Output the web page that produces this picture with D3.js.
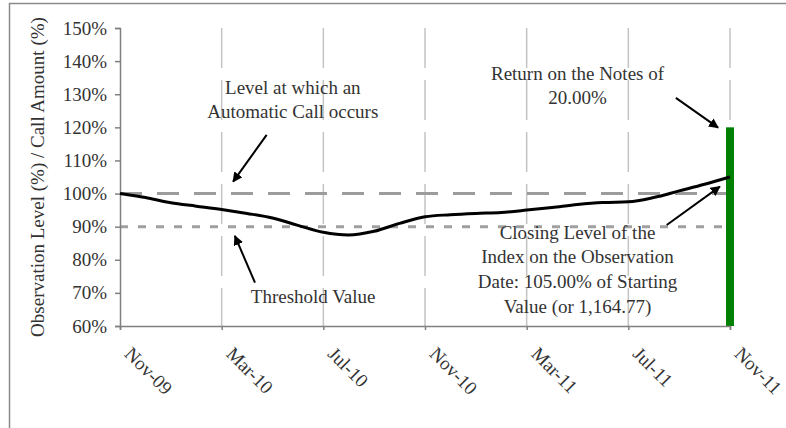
<!DOCTYPE html>
<html>
<head>
<meta charset="utf-8">
<script src="https://cdn.jsdelivr.net/npm/d3@7"></script>
<style>
  body { margin: 0; background: #fff; }
  text { font-family: "Liberation Serif", "Times New Roman", serif; fill: #333; }
</style>
</head>
<body>
<svg id="chart"></svg>
<script>
// Monthly closing level of the index, % of starting value (Nov-09 .. Nov-11)
const levels = [100, 98.8, 97.2, 96.2, 95.2, 94, 92.6, 90.4, 88.3, 87.5, 88.6, 91,
  93, 93.6, 94, 94.3, 95, 95.8, 96.7, 97.3, 97.5, 98.8, 100.8, 102.8, 105];

// x tick positions (month offset from Nov-09) and their labels
const tickMonths = [0, 4, 8, 12, 16, 20, 24];
const tickLabels = ["Nov-09", "Mar-10", "Jul-10", "Nov-10", "Mar-11", "Jul-11", "Nov-11"];
const yTicks = [60, 70, 80, 90, 100, 110, 120, 130, 140, 150];

const callLevel = 100;
const thresholdLevel = 90;
const returnBar = { month: 24, value: 120 };

// annotations: text lines and arrows in data units (month, %)
const notes = [
  { m: 6.8, v: 130.2, lines: ["Level at which an", "Automatic Call occurs"] },
  { m: 18.0, v: 134.4, lines: ["Return on the Notes of", "20.00%"] },
  { m: 7.6, v: 67.0, lines: ["Threshold Value"] },
  { m: 18.0, v: 86.4, lines: ["Closing Level of the", "Index on the Observation",
    "Date: 105.00% of Starting", "Value (or 1,164.77)"] }
];
const arrows = [
  { from: [5.77, 117.7], to: [4.45, 103.6] },
  { from: [21.87, 128.9], to: [23.53, 119.9] },
  { from: [5.31, 73.1], to: [4.52, 87.2] },
  { from: [21.51, 90.5], to: [23.6, 102.1] }
];

const W = 786, H = 428;
const margin = { top: 28, right: 56, bottom: 102, left: 120 };
const width = W - margin.left - margin.right;
const height = H - margin.top - margin.bottom;
const fontSize = "19px";

const root = d3.select("#chart").attr("width", W).attr("height", H);

// outer frame (runs off the right and bottom edges)
root.append("rect")
  .attr("x", 9.5).attr("y", 3.5)
  .attr("width", 820).attr("height", 500)
  .attr("fill", "none").attr("stroke", "#8a8a8a").attr("stroke-width", 1.5);

const svg = root.append("g")
  .attr("transform", "translate(" + margin.left + "," + margin.top + ")");

const x = d3.scaleLinear().domain([0, 24]).range([0, width]);
const y = d3.scaleLinear().domain([60, 150]).range([height, 0]);

// vertical dashed gridlines
svg.selectAll(".vgrid")
  .data(tickMonths.slice(1))
  .enter().append("line")
  .attr("class", "vgrid")
  .attr("x1", d => x(d)).attr("x2", d => x(d))
  .attr("y1", y(150)).attr("y2", y(60))
  .attr("stroke", "#c4c4c4").attr("stroke-width", 1.5)
  .attr("stroke-dasharray", "40,12");

// call level and threshold lines
svg.append("line")
  .attr("x1", x(0)).attr("x2", x(24))
  .attr("y1", y(callLevel)).attr("y2", y(callLevel))
  .attr("stroke", "#9c9c9c").attr("stroke-width", 3)
  .attr("stroke-dasharray", "22,15");

svg.append("line")
  .attr("x1", x(0)).attr("x2", x(24))
  .attr("y1", y(thresholdLevel)).attr("y2", y(thresholdLevel))
  .attr("stroke", "#a0a0a0").attr("stroke-width", 3)
  .attr("stroke-dasharray", "8,10");

// return bar
svg.append("rect")
  .attr("x", x(returnBar.month) - 4)
  .attr("y", y(returnBar.value))
  .attr("width", 8)
  .attr("height", y(60) - y(returnBar.value))
  .attr("fill", "#008000");

// axes
const yAxis = svg.append("g")
  .call(d3.axisLeft(y).tickValues(yTicks).tickSize(5).tickPadding(8)
    .tickFormat(d => d + "%"));
yAxis.selectAll("text").style("font-size", fontSize).attr("fill", "#333");

const xAxis = svg.append("g")
  .attr("transform", "translate(0," + height + ")")
  .call(d3.axisBottom(x).tickValues(tickMonths).tickSize(4)
    .tickFormat((d, i) => tickLabels[i]));
xAxis.selectAll("text")
  .style("font-size", fontSize).attr("fill", "#333")
  .attr("text-anchor", "start")
  .attr("transform", "translate(3,29) rotate(45)")
  .attr("y", 0).attr("dy", 0);

[yAxis, xAxis].forEach(a => {
  a.select(".domain").attr("stroke", "#808080").attr("stroke-width", 1.5);
  a.selectAll(".tick line").attr("stroke", "#808080").attr("stroke-width", 1.5);
});

// index level line
const line = d3.line()
  .x((d, i) => x(i))
  .y(d => y(d))
  .curve(d3.curveMonotoneX);

svg.append("path")
  .datum(levels)
  .attr("fill", "none")
  .attr("stroke", "#000")
  .attr("stroke-width", 3)
  .attr("d", line);

// y axis title
root.append("text")
  .attr("transform", "translate(44," + (margin.top + height / 2) + ") rotate(-90)")
  .attr("text-anchor", "middle")
  .style("font-size", fontSize)
  .text("Observation Level (%) / Call Amount (%)");

// annotation text
notes.forEach(n => {
  const t = svg.append("text")
    .attr("x", x(n.m)).attr("y", y(n.v))
    .attr("text-anchor", "middle")
    .style("font-size", fontSize);
  n.lines.forEach((l, i) => {
    t.append("tspan").attr("x", x(n.m)).attr("dy", i === 0 ? 0 : "1.3em").text(l);
  });
});

// arrows
svg.append("defs").append("marker")
  .attr("id", "head")
  .attr("viewBox", "0 0 10 10")
  .attr("refX", 9).attr("refY", 5)
  .attr("markerWidth", 5).attr("markerHeight", 5)
  .attr("orient", "auto")
  .append("path").attr("d", "M0,0L10,5L0,10z").attr("fill", "#000");

svg.selectAll(".arrow")
  .data(arrows)
  .enter().append("line")
  .attr("class", "arrow")
  .attr("x1", d => x(d.from[0])).attr("y1", d => y(d.from[1]))
  .attr("x2", d => x(d.to[0])).attr("y2", d => y(d.to[1]))
  .attr("stroke", "#000").attr("stroke-width", 2)
  .attr("marker-end", "url(#head)");
</script>
</body>
</html>
